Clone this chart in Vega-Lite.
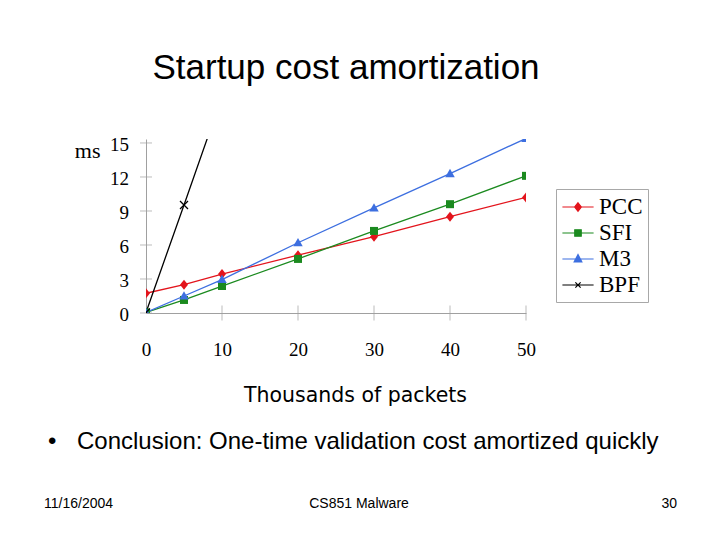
{
  "$schema": "https://vega.github.io/schema/vega-lite/v6.json",
  "autosize": "none",
  "width": 380,
  "height": 174,
  "padding": {"left": 146, "top": 139, "right": 194, "bottom": 227},
  "background": "white",
  "title": {
    "text": "Startup cost amortization",
    "font": "Liberation Sans",
    "fontSize": 35,
    "fontWeight": "normal",
    "color": "black",
    "frame": "group",
    "anchor": "middle",
    "dx": 10,
    "baseline": "alphabetic",
    "offset": 22
  },
  "data": {
    "values": [
      {"series": "PCC", "x": 0, "y": 1.74},
      {"series": "PCC", "x": 5, "y": 2.5},
      {"series": "PCC", "x": 10, "y": 3.44},
      {"series": "PCC", "x": 20, "y": 5.1},
      {"series": "PCC", "x": 30, "y": 6.73},
      {"series": "PCC", "x": 40, "y": 8.5},
      {"series": "PCC", "x": 50, "y": 10.2},
      {"series": "SFI", "x": 0, "y": 0.05},
      {"series": "SFI", "x": 5, "y": 1.15},
      {"series": "SFI", "x": 10, "y": 2.38},
      {"series": "SFI", "x": 20, "y": 4.77},
      {"series": "SFI", "x": 30, "y": 7.24},
      {"series": "SFI", "x": 40, "y": 9.6},
      {"series": "SFI", "x": 50, "y": 12.1},
      {"series": "M3", "x": 0, "y": 0.05},
      {"series": "M3", "x": 5, "y": 1.5},
      {"series": "M3", "x": 10, "y": 2.95},
      {"series": "M3", "x": 20, "y": 6.2},
      {"series": "M3", "x": 30, "y": 9.27},
      {"series": "M3", "x": 40, "y": 12.3},
      {"series": "M3", "x": 50, "y": 15.4},
      {"series": "BPF", "x": 0, "y": 0.05},
      {"series": "BPF", "x": 5, "y": 9.53},
      {"series": "BPF", "x": 10, "y": 19.1}
    ]
  },
  "layer": [
    {
      "mark": {"type": "line", "clip": true, "strokeWidth": 1.3},
      "encoding": {
        "x": {
          "field": "x",
          "type": "quantitative",
          "scale": {"domain": [0, 50], "nice": false},
          "axis": {
            "values": [0, 10, 20, 30, 40, 50],
            "grid": false,
            "ticks": false,
            "tickSize": 0,
            "domainColor": "#a0a0a0",
            "labelFont": "Liberation Serif",
            "labelFontSize": 19,
            "labelColor": "black",
            "labelPadding": 27,
            "labelFlush": false,
            "labelOverlap": false,
            "title": "Thousands of packets",
            "titleFont": "DejaVu Sans",
            "titleFontSize": 20.5,
            "titleFontWeight": "normal",
            "titleColor": "black",
            "titleX": 209,
            "titleY": 88,
            "titleBaseline": "alphabetic"
          }
        },
        "y": {
          "field": "y",
          "type": "quantitative",
          "scale": {"domain": [0, 15.35], "nice": false, "zero": true},
          "axis": {
            "values": [0, 15],
            "grid": false,
            "ticks": false,
            "tickSize": 0,
            "labels": false,
            "domainColor": "#a0a0a0",
            "title": "ms",
            "titleAngle": 0,
            "titleFont": "Liberation Serif",
            "titleFontSize": 22,
            "titleFontWeight": "normal",
            "titleColor": "black",
            "titleAlign": "right",
            "titleBaseline": "alphabetic",
            "titleX": -46,
            "titleY": 18
          }
        },
        "color": {
          "field": "series",
          "type": "nominal",
          "scale": {
            "domain": ["PCC", "SFI", "M3", "BPF"],
            "range": ["#e3141c", "#1b8a1f", "#3d6fe0", "#000000"]
          },
          "legend": {
            "title": null,
            "orient": "none",
            "legendX": 410,
            "legendY": 50,
            "strokeColor": "#a8a8a8",
            "fillColor": "white",
            "padding": 5,
            "symbolSize": 576,
            "symbolOffset": 4,
            "symbolStrokeWidth": 1.2,
            "labelFont": "Liberation Serif",
            "labelFontSize": 23,
            "labelColor": "black",
            "labelOffset": 8,
            "rowPadding": 1,
            "encode": {
              "symbols": {
                "update": {
                  "shape": {"signal": "datum.value === 'PCC' ? 'M-1.3,0L1.3,0M0,-0.35L0.28,0L0,0.35L-0.28,0Z' : datum.value === 'SFI' ? 'M-1.3,0L1.3,0M-0.27,-0.27L0.27,-0.27L0.27,0.27L-0.27,0.27Z' : datum.value === 'M3' ? 'M-1.3,0L1.3,0M0,-0.37L0.32,0.25L-0.32,0.25Z' : 'M-1.3,0L1.3,0M-0.22,-0.22L0.22,0.22M-0.22,0.22L0.22,-0.22'"},
                  "fill": {"scale": "color", "field": "value"},
                  "stroke": {"scale": "color", "field": "value"},
                  "opacity": {"value": 1}
                }
              }
            }
          }
        }
      }
    },
    {
      "data": {"values": [{"t": 0}, {"t": 3}, {"t": 6}, {"t": 9}, {"t": 12}, {"t": 15}]},
      "mark": {"type": "tick", "orient": "horizontal", "color": "#a0a0a0", "thickness": 1, "size": 12},
      "encoding": {
        "x": {"datum": 0, "type": "quantitative"},
        "y": {"field": "t", "type": "quantitative"}
      }
    },
    {
      "data": {"values": [{"t": 0}, {"t": 3}, {"t": 6}, {"t": 9}, {"t": 12}, {"t": 15}]},
      "mark": {"type": "text", "clip": false, "align": "right", "baseline": "middle", "dx": -17, "dy": 2, "font": "Liberation Serif", "fontSize": 19, "color": "black"},
      "encoding": {
        "x": {"datum": 0, "type": "quantitative"},
        "y": {"field": "t", "type": "quantitative"},
        "text": {"field": "t", "type": "quantitative"}
      }
    },
    {
      "data": {"values": [{"t": 10}, {"t": 20}, {"t": 30}, {"t": 40}, {"t": 50}]},
      "mark": {"type": "tick", "orient": "vertical", "color": "#a0a0a0", "thickness": 1, "size": 15},
      "encoding": {
        "x": {"field": "t", "type": "quantitative"},
        "y": {"datum": 0, "type": "quantitative"}
      }
    },
    {
      "transform": [{"filter": "datum.series === 'PCC'"}],
      "mark": {"type": "point", "clip": true, "filled": true, "opacity": 1, "color": "#e3141c", "shape": "M0,-1L0.8,0L0,1L-0.8,0Z", "size": 100},
      "encoding": {
        "x": {"field": "x", "type": "quantitative"},
        "y": {"field": "y", "type": "quantitative"}
      }
    },
    {
      "transform": [{"filter": "datum.series === 'SFI'"}],
      "mark": {"type": "point", "clip": true, "filled": true, "opacity": 1, "color": "#1b8a1f", "shape": "M-1,-1L1,-1L1,1L-1,1Z", "size": 64},
      "encoding": {
        "x": {"field": "x", "type": "quantitative"},
        "y": {"field": "y", "type": "quantitative"}
      }
    },
    {
      "transform": [{"filter": "datum.series === 'M3'"}],
      "mark": {"type": "point", "clip": true, "filled": true, "opacity": 1, "color": "#3d6fe0", "shape": "M0,-1L1,0.75L-1,0.75Z", "size": 90},
      "encoding": {
        "x": {"field": "x", "type": "quantitative"},
        "y": {"field": "y", "type": "quantitative"}
      }
    },
    {
      "transform": [{"filter": "datum.series === 'BPF'"}],
      "mark": {"type": "point", "clip": true, "filled": false, "opacity": 1, "color": "#000000", "strokeWidth": 1.3, "shape": "M-1,-1L1,1M-1,1L1,-1", "size": 64},
      "encoding": {
        "x": {"field": "x", "type": "quantitative"},
        "y": {"field": "y", "type": "quantitative"}
      }
    },
    {
      "data": {"values": [{}]},
      "mark": {"type": "text", "clip": false, "align": "left", "baseline": "alphabetic", "font": "Liberation Sans", "fontSize": 24, "color": "black"},
      "encoding": {
        "x": {"datum": -12.9, "type": "quantitative"},
        "y": {"datum": -12.0, "type": "quantitative"},
        "text": {"value": "•"}
      }
    },
    {
      "data": {"values": [{}]},
      "mark": {"type": "text", "clip": false, "align": "left", "baseline": "alphabetic", "font": "Liberation Sans", "fontSize": 24, "color": "black"},
      "encoding": {
        "x": {"datum": -9.08, "type": "quantitative"},
        "y": {"datum": -12.0, "type": "quantitative"},
        "text": {"value": "Conclusion: One-time validation cost amortized quickly"}
      }
    },
    {
      "data": {"values": [{}]},
      "mark": {"type": "text", "clip": false, "align": "left", "baseline": "alphabetic", "font": "Liberation Sans", "fontSize": 14, "color": "black"},
      "encoding": {
        "x": {"datum": -13.42, "type": "quantitative"},
        "y": {"datum": -17.2, "type": "quantitative"},
        "text": {"value": "11/16/2004"}
      }
    },
    {
      "data": {"values": [{}]},
      "mark": {"type": "text", "clip": false, "align": "center", "baseline": "alphabetic", "font": "Liberation Sans", "fontSize": 14, "color": "black"},
      "encoding": {
        "x": {"datum": 28.03, "type": "quantitative"},
        "y": {"datum": -17.2, "type": "quantitative"},
        "text": {"value": "CS851 Malware"}
      }
    },
    {
      "data": {"values": [{}]},
      "mark": {"type": "text", "clip": false, "align": "right", "baseline": "alphabetic", "font": "Liberation Sans", "fontSize": 14, "color": "black"},
      "encoding": {
        "x": {"datum": 69.87, "type": "quantitative"},
        "y": {"datum": -17.2, "type": "quantitative"},
        "text": {"value": "30"}
      }
    }
  ],
  "config": {
    "view": {"stroke": null},
    "axis": {"labelOverlap": false}
  }
}
